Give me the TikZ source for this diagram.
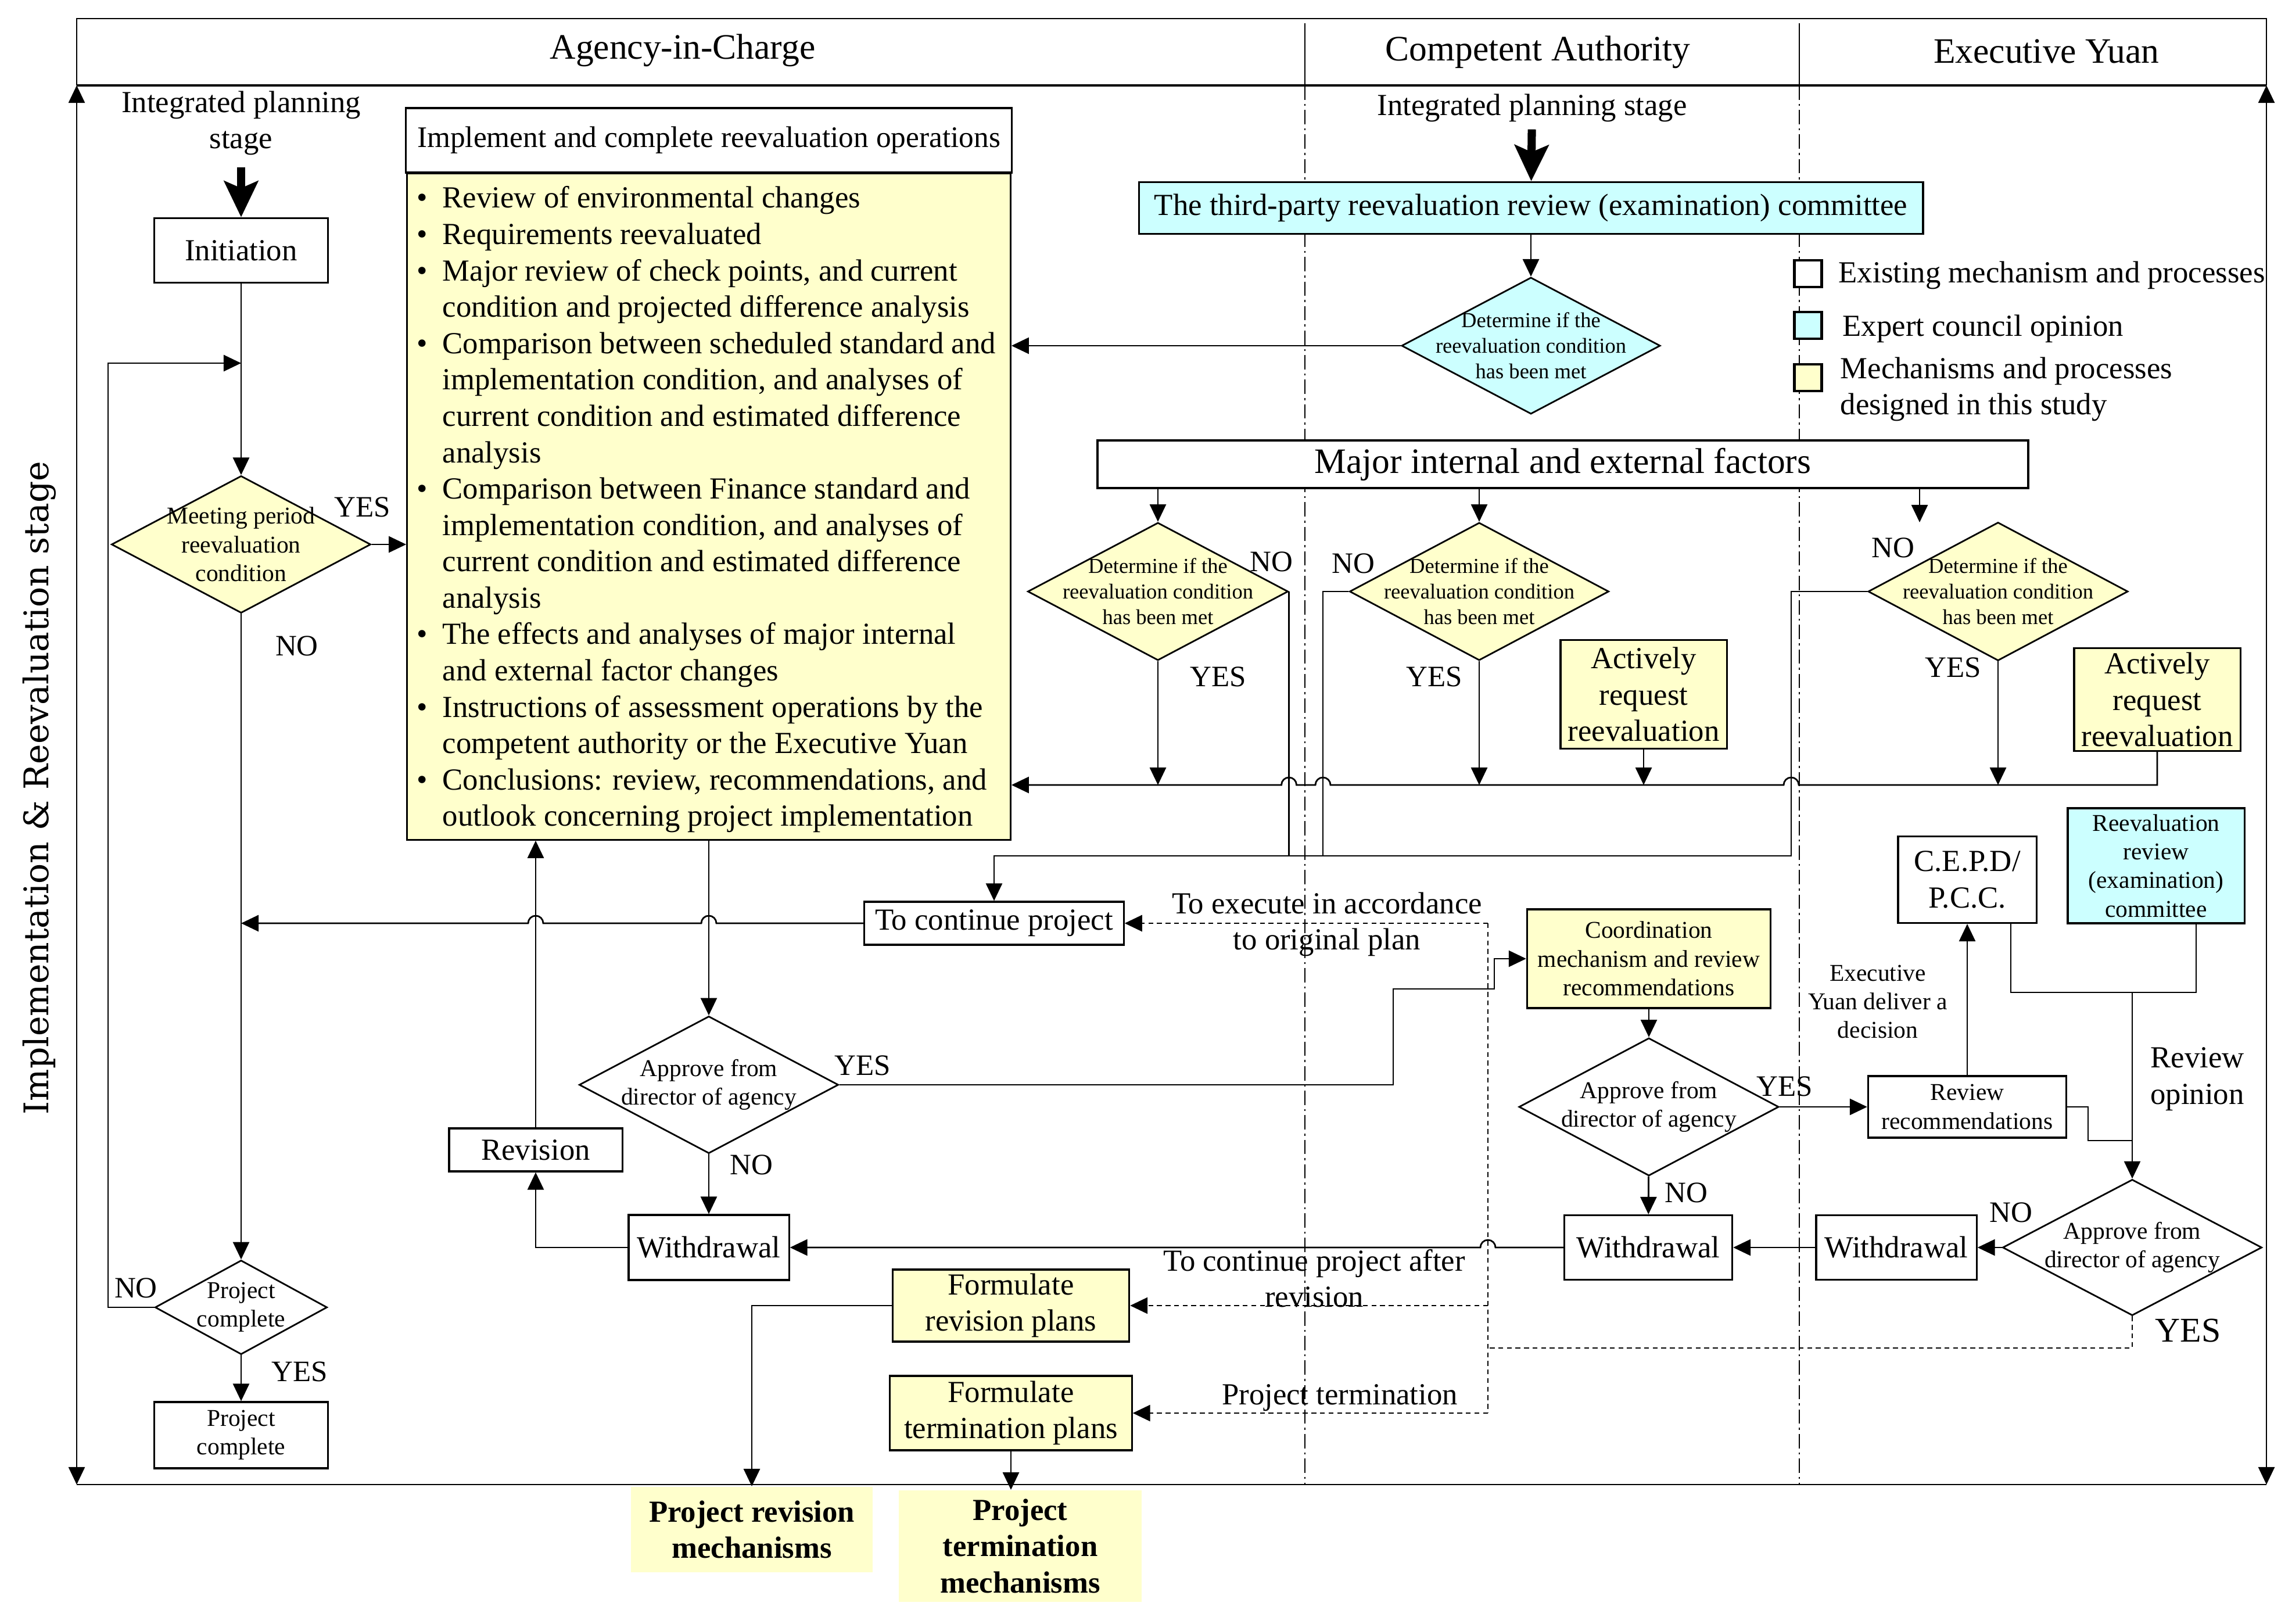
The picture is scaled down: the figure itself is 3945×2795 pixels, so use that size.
\documentclass[tikz,border=0pt]{standalone}
\usepackage{fontspec}
\newfontfamily\tnr{Liberation Serif}
\newfontfamily\dvs{DejaVu Serif}
\usetikzlibrary{shapes.geometric,arrows.meta,calc}
\definecolor{ylw}{HTML}{FFFFCC}
\definecolor{cyn}{HTML}{CCFFFF}
\newcommand{\fsBig}{\fontsize{17.5}{21}\selectfont}
\newcommand{\fsBody}{\fontsize{15}{17.8}\selectfont}
\newcommand{\fsSmall}{\fontsize{11.8}{14}\selectfont}
\newcommand{\fsTiny}{\fontsize{10.4}{12.5}\selectfont}
\newcommand{\bul}{\makebox[0.44cm][l]{\textbullet}}
\newcommand{\bulind}{\makebox[0.44cm]{}}
\tikzset{
  box/.style={draw, line width=0.9pt, inner sep=0pt, align=center, font=\tnr\fsBody},
  dmd/.style={diamond, draw, line width=0.8pt, inner sep=0pt},
  lbl/.style={inner sep=0pt, align=center, font=\tnr\fsBody},
  yn/.style={inner sep=0pt, font=\tnr\fontsize{14.5}{17}\selectfont},
  arr/.style={-{Triangle[length=0.3cm,width=0.28cm]}, line width=0.8pt},
  thk/.style={-{Stealth[length=0.62cm,width=0.58cm,inset=0.12cm]}, line width=4pt},
  dsh/.style={dash pattern=on 2.4pt off 1.8pt, line width=0.8pt},
  sep/.style={dash pattern=on 7pt off 2pt on 1pt off 2pt, line width=0.5pt},
  key/.style={draw, line width=1.3pt, inner sep=0pt, minimum width=0.47cm, minimum height=0.46cm}
}
\begin{document}
\begin{tikzpicture}[x=0.01cm, y=-0.01cm]
\useasboundingbox (0,0) rectangle (3945,2795);

% lane separators
\draw[sep] (2246,147) -- (2246,2555);
\draw[sep] (3097,147) -- (3097,2555);

% header
\draw[line width=0.7pt] (132,147) -- (132,32) -- (3901,32) -- (3901,147);
\draw[line width=1.3pt] (132,147) -- (3901,147);
\draw[line width=0.6pt] (2246,40) -- (2246,147);
\draw[line width=0.6pt] (3097,40) -- (3097,147);
\node[lbl, font=\tnr\fsBig, anchor=base] (hAgency) at (1175,102) {Agency-in-Charge};
\node[lbl, font=\tnr\fsBig, anchor=base] (hAuth) at (2647,105) {Competent Authority};
\node[lbl, font=\tnr\fsBig, anchor=base] (hYuan) at (3522,109) {Executive Yuan};

% frame
\draw[{Triangle[length=0.3cm,width=0.28cm]}-{Triangle[length=0.3cm,width=0.28cm]}, line width=0.7pt] (132,147) -- (132,2555);
\draw[{Triangle[length=0.3cm,width=0.28cm]}-{Triangle[length=0.3cm,width=0.28cm]}, line width=0.7pt] (3901,147) -- (3901,2555);
\draw[line width=0.7pt] (132,2555) -- (3901,2555);
\node[rotate=90, inner sep=0pt, font=\dvs\fontsize{16.6}{20}\selectfont] (stage) at (68,1356) {Implementation \& Reevaluation stage};

% agency column
\node[lbl] (planL) at (415,212) {Integrated planning\\stage};
\node[box, minimum width=2.98cm, minimum height=1.11cm] (init) at (415,431) {Initiation};
\node[dmd, fill=ylw, minimum width=4.46cm, minimum height=2.36cm, label={[lbl,font=\tnr\fsSmall]center:{Meeting period\\reevaluation\\condition}}] (meet) at (415,937) {};
\node[dmd, fill=white, minimum width=2.96cm, minimum height=1.62cm, label={[lbl,font=\tnr\fsSmall]center:{Project\\complete}}] (pcDec) at (415,2250) {};
\node[box, font=\tnr\fsSmall, minimum width=2.98cm, minimum height=1.14cm] (pcBox) at (415,2470) {Project\\complete};

\node[box, fill=white, font=\tnr\fontsize{14.6}{17.5}\selectfont, minimum width=10.42cm, minimum height=1.11cm] (implHead) at (1220,241.5) {Implement and complete reevaluation operations};
\node[box, fill=ylw, anchor=north, minimum width=10.38cm, minimum height=11.46cm] (implBody) at (1220,297) {};
\node[lbl, anchor=north west, align=left] (implList) at (717,320) {\bul Review of environmental changes\\
\bul Requirements reevaluated\\
\bul Major review of check points, and current\\
\bulind condition and projected difference analysis\\
\bul Comparison between scheduled standard and\\
\bulind implementation condition, and analyses of\\
\bulind current condition and estimated difference\\
\bulind analysis\\
\bul Comparison between Finance standard and\\
\bulind implementation condition, and analyses of\\
\bulind current condition and estimated difference\\
\bulind analysis\\
\bul The effects and analyses of major internal\\
\bulind and external factor changes\\
\bul Instructions of assessment operations by the\\
\bulind competent authority or the Executive Yuan\\
\bul Conclusions: review, recommendations, and\\
\bulind outlook concerning project implementation};

\node[box, fill=white, minimum width=4.46cm, minimum height=0.74cm] (cont) at (1711,1589) {To continue project};
\node[lbl] (cntLbl) at (2284,1591) {To execute in accordance\\to original plan};
\node[dmd, fill=white, minimum width=4.46cm, minimum height=2.36cm, label={[lbl,font=\tnr\fsSmall]center:{Approve from\\director of agency}}] (apv1) at (1220,1867) {};
\node[box, minimum width=2.98cm, minimum height=0.74cm] (revis) at (922,1979) {Revision};
\node[box, minimum width=2.76cm, minimum height=1.12cm] (wd1) at (1220,2147) {Withdrawal};
\node[box, fill=ylw, minimum width=4.07cm, minimum height=1.24cm] (fRev) at (1740,2247) {Formulate\\revision plans};
\node[box, fill=ylw, minimum width=4.16cm, minimum height=1.28cm] (fTerm) at (1740,2432) {Formulate\\termination plans};
\node[lbl] (revLbl) at (2262,2200) {To continue project after\\revision};
\node[lbl] (termLbl) at (2306,2406) {Project termination};
\node[fill=ylw, inner sep=0pt, align=center, font=\tnr\bfseries\fsBody, minimum width=4.15cm, minimum height=1.47cm, anchor=north] (mRev) at (1294,2558) {Project revision\\mechanisms};
\node[fill=ylw, inner sep=0pt, align=center, font=\tnr\bfseries\fsBody, minimum width=4.18cm, minimum height=1.92cm, anchor=north] (mTerm) at (1756,2564) {Project\\termination\\mechanisms};

% authority column
\node[lbl] (planR) at (2637,186) {Integrated planning stage};
\node[box, fill=cyn, minimum width=13.49cm, minimum height=0.89cm] (third) at (2635,358) {The third-party reevaluation review (examination) committee};
\node[dmd, fill=cyn, minimum width=4.45cm, minimum height=2.35cm, label={[lbl,font=\tnr\fsTiny]center:{Determine if the\\reevaluation condition\\has been met}}] (dTop) at (2635,595) {};
\node[box, fill=white, font=\tnr\fsBig, minimum width=16.01cm, minimum height=0.82cm] (major) at (2690,799) {Major internal and external factors};
\node[dmd, fill=ylw, minimum width=4.48cm, minimum height=2.37cm, label={[lbl,font=\tnr\fsTiny]center:{Determine if the\\reevaluation condition\\has been met}}] (d1) at (1993,1018) {};
\node[dmd, fill=ylw, minimum width=4.46cm, minimum height=2.37cm, label={[lbl,font=\tnr\fsTiny]center:{Determine if the\\reevaluation condition\\has been met}}] (d2) at (2546,1018) {};
\node[dmd, fill=ylw, minimum width=4.47cm, minimum height=2.38cm, label={[lbl,font=\tnr\fsTiny]center:{Determine if the\\reevaluation condition\\has been met}}] (d3) at (3439,1018) {};
\node[box, fill=ylw, minimum width=2.86cm, minimum height=1.87cm] (act1) at (2829,1195) {Actively\\request\\reevaluation};
\node[box, fill=ylw, minimum width=2.86cm, minimum height=1.77cm] (act2) at (3713,1204) {Actively\\request\\reevaluation};
\node[box, fill=ylw, font=\tnr\fsSmall, minimum width=4.19cm, minimum height=1.70cm] (coord) at (2838,1650) {Coordination\\mechanism and review\\recommendations};
\node[dmd, fill=white, minimum width=4.47cm, minimum height=2.37cm, label={[lbl,font=\tnr\fsSmall]center:{Approve from\\director of agency}}] (apv2) at (2838,1905) {};
\node[box, minimum width=2.89cm, minimum height=1.11cm] (wd2) at (2837,2147) {Withdrawal};

% legend
\node[key, fill=white] (keyOld) at (3112,471) {};
\node[key, fill=cyn] (keyExp) at (3112,560) {};
\node[key, fill=ylw] (keyNew) at (3112,650) {};
\node[lbl, anchor=west] (txtOld) at (3164,474) {Existing mechanism and processes};
\node[lbl, anchor=west] (txtExp) at (3171,566) {Expert council opinion};
\node[lbl, anchor=west, align=left] (txtNew) at (3167,670) {Mechanisms and processes\\designed in this study};

% executive yuan column
\node[box, minimum width=2.38cm, minimum height=1.49cm] (cepd) at (3386,1514) {C.E.P.D/\\P.C.C.};
\node[box, fill=cyn, font=\tnr\fsSmall, minimum width=3.04cm, minimum height=1.98cm] (rrc) at (3711,1490) {Reevaluation\\review\\(examination)\\committee};
\node[lbl, font=\tnr\fsSmall] (decLbl) at (3232,1724) {Executive\\Yuan deliver a\\decision};
\node[box, font=\tnr\fsSmall, minimum width=3.41cm, minimum height=1.06cm] (revRec) at (3386,1905) {Review\\recommendations};
\node[lbl] (opLbl) at (3782,1857) {Review\\opinion};
\node[dmd, fill=white, minimum width=4.46cm, minimum height=2.34cm, label={[lbl,font=\tnr\fsSmall]center:{Approve from\\director of agency}}] (apv3) at (3670,2147) {};
\node[box, minimum width=2.76cm, minimum height=1.11cm] (wd3) at (3264,2147) {Withdrawal};

% yes / no
\node[yn] (yMeet) at (624,873) {YES};
\node[yn] (nMeet) at (511,1112) {NO};
\node[yn] (nPc) at (234,2217) {NO};
\node[yn] (yPc) at (516,2361) {YES};
\node[yn] (nD1) at (2188,967) {NO};
\node[yn] (yD1) at (2097,1165) {YES};
\node[yn] (nD2) at (2329,970) {NO};
\node[yn] (yD2) at (2469,1165) {YES};
\node[yn] (nD3) at (3258,943) {NO};
\node[yn] (yD3) at (3362,1149) {YES};
\node[yn] (yA1) at (1485,1834) {YES};
\node[yn] (nA1) at (1293,2005) {NO};
\node[yn] (yA2) at (3072,1870) {YES};
\node[yn] (nA2) at (2902,2053) {NO};
\node[yn] (nA3) at (3461,2087) {NO};
\node[yn, font=\tnr\fontsize{17}{20}\selectfont] (yA3) at (3766,2290) {YES};

% bends
\coordinate (loopIn) at (415,625);
\coordinate (loopC) at (186,625);
\coordinate (ret) at (3713,1351);
\coordinate (n2) at (2277,1018);
\coordinate (n3) at (3083,1018);
\coordinate (noRow) at (1711,1473);
\coordinate (d3in) at (3304,899);
\coordinate (dTopPt) at (2561,1589);
\coordinate (dBotPt) at (2561,2432);
\coordinate (yesA) at (2398,1702);
\coordinate (yesB) at (2572,1650);
\coordinate (opJ) at (3670,1708);
\coordinate (recJ) at (3594,1963);

% connectors
\draw[thk, shorten <=0.2cm] (planL) -- (init);
\draw[thk, shorten <=0.12cm] (planR) -- (third);
\draw[arr] (init) -- (meet);
\draw[arr] (pcDec.west) -| (loopC) -- (loopIn);
\draw[arr] (meet.east) -- (meet.east -| implBody.west);
\draw[arr] (meet) -- (pcDec);
\draw[arr] (pcDec) -- (pcBox);

\draw[arr] (third) -- (dTop);
\draw[arr] (dTop.west) -- (dTop.west -| implBody.east);
\draw[arr] (d1.north |- major.south) -- (d1.north);
\draw[arr] (d2.north |- major.south) -- (d2.north);
\draw[arr] (d3in |- major.south) -- (d3in);
\draw[arr] (d1.south) -- (d1.south |- ret);
\draw[arr] (d2.south) -- (d2.south |- ret);
\draw[arr] (d3.south) -- (d3.south |- ret);
\draw[arr] (act1.south) -- (act1.south |- ret);
\draw[arr] (act2.south) -- (ret) -- ($(ret -| n3)+(13,0)$) arc[start angle=0, end angle=-180, radius=13]
  -- ($(ret -| n2)+(13,0)$) arc[start angle=0, end angle=-180, radius=13]
  -- ($(ret -| d1.east)+(13,0)$) arc[start angle=0, end angle=-180, radius=13]
  -- (ret -| implBody.east);
\draw[line width=0.8pt] (d1.east) -- (d1.east |- noRow);
\draw[line width=0.8pt] (d2.west) -- (n2) -- (n2 |- noRow);
\draw[arr] (d3.west) -- (n3) -- (n3 |- noRow) -- (noRow) -- (cont.north);

\draw[arr] (cont.west) -- ($(cont.west -| apv1.north)+(13,0)$) arc[start angle=0, end angle=-180, radius=13]
  -- ($(cont.west -| revis.north)+(13,0)$) arc[start angle=0, end angle=-180, radius=13]
  -- (cont.west -| meet.south);
\draw[arr] (implBody) -- (apv1) ;
\draw[arr] (revis) -- (revis.north |- implBody.south);
\draw[arr] (apv1) -- (wd1);
\draw[arr] (wd1.west) -| (revis.south);
\draw[arr] (apv1.east) -| (yesA) -| (yesB) -- (coord.west);
\draw[arr] (wd2.west) -- ($(wd2.west -| dTopPt)+(13,0)$) arc[start angle=0, end angle=-180, radius=13] -- (wd1.east);

\draw[arr] (coord) -- (apv2);
\draw[arr] (apv2) -- (wd2);
\draw[arr] (apv2.east) -- (revRec.west);
\draw[arr] (wd3) -- (wd2);
\draw[arr] (apv3.west) -- (wd3.east);
\draw[arr] (revRec) -- (cepd);
\draw[line width=0.8pt] ($(cepd.south)+(75,0)$) |- (opJ) -| ($(rrc.south)+(69,0)$);
\draw[arr] (opJ) -- (apv3.north);
\draw[line width=0.8pt] (revRec.east) -| (recJ) -- (recJ -| apv3.north);

\draw[dsh] (dTopPt) -- (dBotPt);
\draw[dsh, arr] (dTopPt) -- (cont.east);
\draw[dsh, arr] (dTopPt |- fRev.east) -- (fRev.east);
\draw[dsh, arr] (dBotPt) -- (fTerm.east);
\draw[dsh] (apv3.south) |- (dTopPt |- 0,2320);
\draw[arr] (fRev.west) -| (mRev.north);
\draw[arr] (fTerm.south) -- (fTerm.south |- mTerm.north);
\end{tikzpicture}
\end{document}
